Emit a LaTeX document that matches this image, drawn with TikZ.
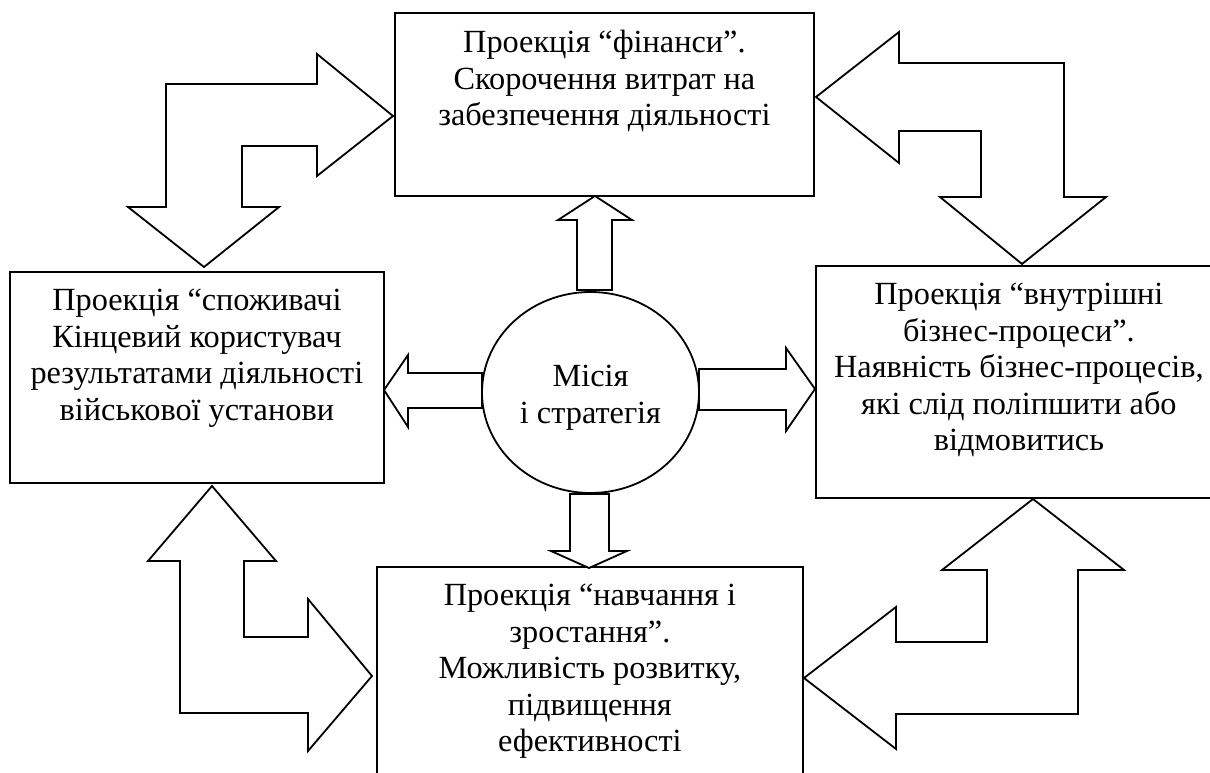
\documentclass[tikz,border=0pt]{standalone}
\usepackage{fontspec}
\setmainfont{Liberation Serif}
\usetikzlibrary{positioning,shapes.geometric}
\tikzset{
  box/.style={draw, line width=1.8pt, anchor=north west, inner sep=0pt},
  txt/.style={align=center, inner sep=0pt, font=\fontsize{32.3}{36.5}\selectfont},
  fatarrow/.style={draw, fill=white, line width=1.8pt, line join=miter}
}

\begin{document}
\begin{tikzpicture}[x=1pt,y=-1pt]
 \useasboundingbox (0,0) rectangle (1210,773);
 \clip (0,0) rectangle (1210,773);

 % boxes
 \node[box, minimum width=419pt, minimum height=183pt] (fin) at (394,12) {};
 \node[box, minimum width=374pt, minimum height=211pt] (spozh) at (9,271) {};
 \node[box, minimum width=406pt, minimum height=232pt] (vnutr) at (815,265) {};
 \node[box, minimum width=426pt, minimum height=230pt] (navch) at (376,566) {};

 \node[txt, below=18pt of fin.north] (finT)
   {Проекція “фінанси”.\\Скорочення витрат на\\забезпечення діяльності};
 \node[txt, below=18pt of spozh.north] (spozhT)
   {Проекція “споживачі\\Кінцевий користувач\\результатами діяльності\\військової установи};
 \node[txt, below=18pt of vnutr.north] (vnutrT)
   {Проекція “внутрішні\\бізнес-процеси”.\\Наявність бізнес-процесів,\\які слід поліпшити або\\відмовитись};
 \node[txt, below=18pt of navch.north] (navchT)
   {Проекція “навчання і\\зростання”.\\Можливість розвитку,\\підвищення\\ефективності};

 % small arrows from the centre
 \draw[fatarrow] (595,196) -- (632,220) -- (612,220) -- (612,290) -- (577,290) -- (577,220) -- (558,220) -- cycle;
 \draw[fatarrow] (384,390) -- (408,355) -- (408,373) -- (482,373) -- (482,408) -- (408,408) -- (408,427) -- cycle;
 \draw[fatarrow] (815,389) -- (786,431) -- (786,410) -- (699,410) -- (699,369) -- (786,369) -- (786,348) -- cycle;
 \draw[fatarrow] (589,568) -- (551,551) -- (570,551) -- (570,494) -- (609,494) -- (609,551) -- (627,551) -- cycle;

 \node[draw, ellipse, line width=1.8pt, fill=white, minimum width=217pt, minimum height=201pt,
   inner sep=0pt] (misia) at (590.5,392.5) {};
 \node[txt, font=\fontsize{32.3}{37}\selectfont] (misiaT) at ([yshift=-5pt]misia.center)
   {Місія\\і стратегія};

 % big corner arrows
 \draw[fatarrow] (393,116) -- (317,54) -- (317,84) -- (166,84) -- (166,207) -- (128,207) -- (204,267)
   -- (279,207) -- (242,207) -- (242,146) -- (317,146) -- (317,176) -- cycle;
 \draw[fatarrow] (816,97) -- (899,32) -- (899,63) -- (1064,63) -- (1064,197) -- (1106,197) -- (1022,264)
   -- (940,197) -- (981,197) -- (981,131) -- (899,131) -- (899,163) -- cycle;
 \draw[fatarrow] (212,486) -- (148,561) -- (180,561) -- (180,713) -- (308,713) -- (308,751) -- (372,676)
   -- (308,599) -- (308,637) -- (244,637) -- (244,561) -- (276,561) -- cycle;
 \draw[fatarrow] (1033,499) -- (942,570) -- (987,570) -- (987,642) -- (896,642) -- (896,607) -- (804,678)
   -- (896,749) -- (896,714) -- (1078,714) -- (1078,570) -- (1124,570) -- cycle;

\end{tikzpicture}
\end{document}
